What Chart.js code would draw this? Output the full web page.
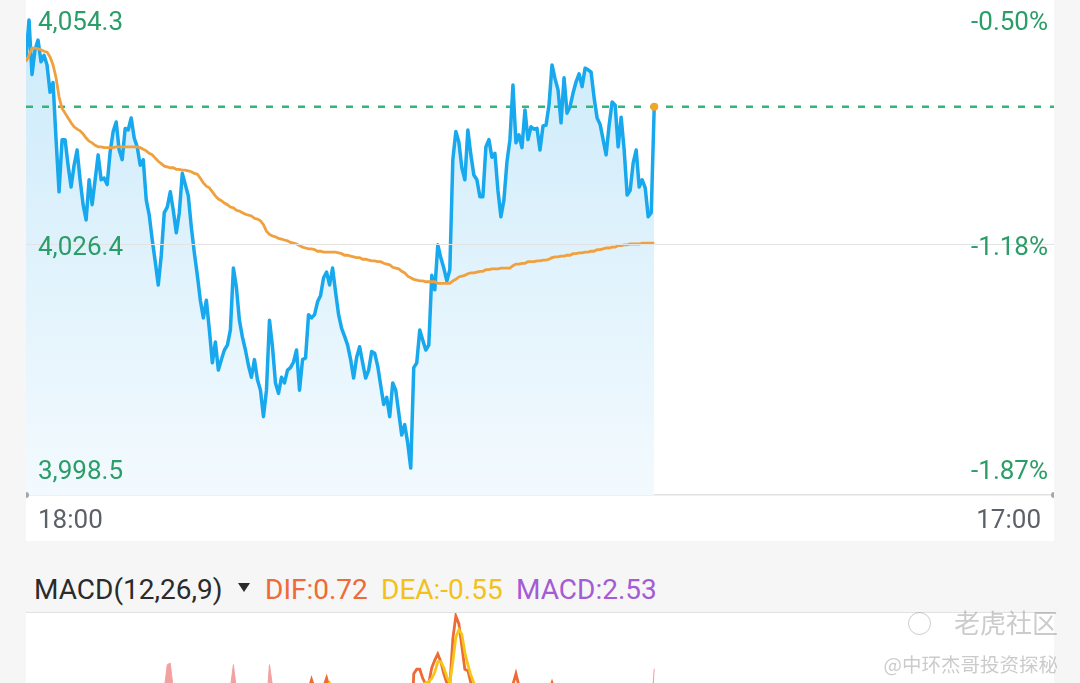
<!DOCTYPE html>
<html lang="zh">
<head>
<meta charset="utf-8">
<title>分时走势</title>
<script src="https://cdn.jsdelivr.net/npm/chart.js@4.4.1/dist/chart.umd.min.js"></script>
<style>
  html, body { margin:0; padding:0; }
  body { width:1080px; height:683px; overflow:hidden; background:#f6f6f6; position:relative; font-family: Roboto, "Noto Sans", Arial, sans-serif; }
  #mainWrap { position:absolute; left:26px; top:0; width:1028px; height:541px; background:#fff; }
  #macdWrap { position:absolute; left:26px; top:613px; width:1028px; height:190px; background:#fff; }
  #sep { position:absolute; left:26px; top:612px; width:1028px; height:1px; background:#e2e2e2; }
  .lg { position:absolute; top:573px; font-size:28px; line-height:33px; white-space:nowrap; font-family: Roboto, sans-serif; }
  #tri { position:absolute; left:238px; top:583px; width:0; height:0; border-left:6px solid transparent; border-right:6px solid transparent; border-top:9px solid #2b2b2b; }
  .wm { position:absolute; right:22px; color: rgba(140,140,140,0.45); font-family:"Noto Sans CJK SC", sans-serif; white-space:nowrap; }
  #wmIcon { position:absolute; left:908px; top:612px; width:21px; height:21px; border:1.5px solid rgba(140,140,140,0.45); border-radius:50%; }
</style>
</head>
<body>
<div id="mainWrap"><canvas id="main"></canvas></div>
<div id="sep"></div>
<div id="macdWrap"><canvas id="macd"></canvas></div>
<div class="lg" id="lgName" style="left:34px;color:#2b2b2b">MACD(12,26,9)</div>
<div id="tri"></div>
<div class="lg" id="lgDif" style="left:265px;color:#ee6b35"></div>
<div class="lg" id="lgDea" style="left:381px;color:#f2c21b"></div>
<div class="lg" id="lgMacd" style="left:516px;color:#a55bd5"></div>
<div id="wmIcon"></div>
<div class="wm" style="top:609px;font-size:26px;line-height:26px;">老虎社区</div>
<div class="wm" style="top:654px;font-size:19.5px;line-height:20px;">@中环杰哥投资探秘</div>
<script>
// ---- data ----
const X_SLOTS = 342;            // session slots (18:00 -> 17:00)
const X_TICK_LABELS = ['18:00', '17:00'];
const Y_TICKS = [3998.5, 4026.4, 4054.3];
const PCT_LABELS = ['-1.87%', '-1.18%', '-0.50%'];

const PRICE = [
  4049.6,4054.3,4047.5,4050.6,4051.8,4049.1,4049.9,4048.7,4045.3,4046.5,
  4039.4,4032.9,4039.4,4039.4,4036.2,4033.5,4036.2,4038.1,4034.4,4031.3,
  4029.4,4034.4,4031.3,4034.4,4037.5,4034.4,4034.6,4033.8,4037.9,4040.4,
  4041.6,4038.1,4036.9,4040.8,4040.6,4042.1,4039.6,4038.5,4036.2,4036.9,
  4031.9,4030.0,4026.9,4024.2,4021.3,4025.0,4030.3,4031.0,4032.9,4030.6,
  4027.8,4030.3,4035.2,4033.8,4032.4,4028.5,4025.3,4022.5,4019.4,4017.2,
  4019.4,4015.7,4011.6,4014.2,4010.7,4012.0,4013.2,4013.8,4015.7,4023.4,
  4021.0,4016.9,4014.8,4013.2,4011.3,4009.8,4012.0,4009.5,4008.2,4004.9,
  4008.2,4016.9,4013.6,4009.1,4007.8,4009.8,4009.1,4010.7,4011.0,4011.7,
  4013.2,4008.2,4012.0,4012.2,4017.6,4017.2,4017.6,4019.2,4020.0,4022.2,
  4022.9,4021.3,4023.4,4020.4,4017.6,4015.9,4014.9,4013.8,4012.0,4009.7,
  4012.3,4013.6,4011.6,4009.7,4010.7,4013.0,4012.8,4011.2,4008.8,4006.4,
  4007.3,4004.9,4009.1,4008.2,4005.4,4002.6,4003.9,4001.6,3998.5,4011.0,
  4011.6,4015.7,4014.4,4013.2,4013.8,4022.5,4020.7,4026.3,4024.7,4023.4,
  4021.8,4023.2,4036.9,4040.4,4039.1,4035.9,4034.4,4040.6,4037.5,4035.0,
  4034.4,4032.3,4032.3,4038.5,4039.4,4037.2,4037.7,4033.1,4029.8,4031.9,
  4036.6,4039.4,4046.2,4039.0,4040.0,4038.4,4043.1,4039.4,4041.0,4040.7,
  4040.8,4038.1,4041.1,4041.2,4043.7,4048.7,4047.0,4045.6,4041.5,4047.1,
  4042.7,4043.5,4045.2,4046.6,4047.6,4046.0,4048.3,4048.1,4047.8,4044.6,
  4042.1,4041.3,4039.4,4037.5,4041.2,4044.1,4043.7,4038.5,4042.2,4038.1,
  4032.5,4033.1,4036.5,4038.1,4033.5,4034.4,4033.4,4029.8,4030.3,4043.5
];

const AVG = [
  4049.1,4049.9,4050.8,4050.8,4050.7,4050.6,4050.4,4050.3,4049.7,4048.7,
  4047.1,4044.7,4043.3,4042.7,4042.1,4041.5,4041.0,4040.7,4040.5,4040.1,
  4039.6,4039.2,4039.0,4038.7,4038.5,4038.5,4038.4,4038.4,4038.4,4038.4,
  4038.5,4038.5,4038.5,4038.5,4038.5,4038.5,4038.5,4038.5,4038.4,4038.2,
  4038.0,4037.7,4037.5,4037.1,4036.7,4036.4,4036.1,4036.0,4035.9,4035.9,
  4035.7,4035.7,4035.6,4035.6,4035.5,4035.4,4035.2,4035.1,4034.6,4034.0,
  4033.6,4033.4,4032.9,4032.4,4032.0,4031.8,4031.5,4031.3,4031.0,4030.9,
  4030.6,4030.5,4030.3,4030.1,4030.0,4029.9,4029.6,4029.5,4029.3,4028.8,
  4028.0,4027.6,4027.4,4027.3,4027.1,4027.0,4026.9,4026.8,4026.6,4026.5,
  4026.4,4026.2,4026.0,4025.9,4025.8,4025.8,4025.7,4025.5,4025.5,4025.4,
  4025.4,4025.4,4025.4,4025.4,4025.3,4025.2,4025.0,4025.0,4024.9,4024.8,
  4024.7,4024.7,4024.5,4024.5,4024.4,4024.3,4024.3,4024.2,4024.2,4024.0,
  4023.9,4023.8,4023.5,4023.4,4023.3,4023.0,4022.8,4022.4,4022.2,4022.0,
  4021.9,4021.8,4021.8,4021.7,4021.7,4021.7,4021.7,4021.5,4021.5,4021.5,
  4021.5,4021.5,4021.8,4022.0,4022.3,4022.4,4022.5,4022.7,4022.8,4022.8,
  4022.9,4023.0,4023.0,4023.2,4023.2,4023.3,4023.3,4023.3,4023.4,4023.4,
  4023.4,4023.4,4023.7,4023.9,4023.9,4024.0,4024.0,4024.2,4024.2,4024.2,
  4024.3,4024.3,4024.4,4024.4,4024.5,4024.7,4024.8,4024.8,4024.9,4024.9,
  4025.0,4025.0,4025.2,4025.2,4025.3,4025.3,4025.4,4025.4,4025.5,4025.5,
  4025.7,4025.7,4025.8,4025.9,4025.9,4026.0,4026.0,4026.2,4026.2,4026.3,
  4026.3,4026.4,4026.4,4026.4,4026.4,4026.5,4026.5,4026.5,4026.5,4026.5
];

const DIF = [
  0.2,0.3,-0.4,-0.2,-0.3,-0.4,-0.5,-0.6,-1.0,-1.1,
  -1.9,-2.8,-1.9,-1.5,-1.7,-2.0,-1.5,-1.1,-1.4,-1.9,
  -2.2,-1.5,-1.6,-1.2,-0.8,-1.0,-0.9,-0.9,-0.4,0.1,
  0.4,0.1,-0.1,0.3,0.4,0.6,0.2,0.0,-0.3,-0.3,
  -0.9,-1.3,-1.8,-2.3,-2.8,-2.2,-1.1,-0.7,-0.3,-0.4,
  -0.8,-0.5,0.2,0.1,-0.1,-0.6,-1.1,-1.6,-2.1,-2.5,
  -2.3,-2.6,-3.1,-2.7,-3.0,-2.7,-2.3,-2.0,-1.5,0.1,
  -0.2,-0.8,-1.2,-1.5,-1.8,-2.0,-1.6,-1.8,-1.9,-2.4,
  -1.8,-0.4,-0.6,-1.2,-1.4,-1.1,-1.1,-0.8,-0.6,-0.4,
  -0.2,-0.9,-0.5,-0.3,1.1,1.8,1.2,1.0,1.1,1.3,
  1.9,1.2,1.4,0.7,0.1,-0.4,-0.8,-1.1,-1.5,-1.9,
  -1.4,-1.0,-1.2,-1.5,-1.3,-0.8,-0.7,-0.9,-1.3,-1.8,
  -1.7,-2.1,-1.2,-1.1,-1.5,-2.0,-1.8,-2.2,-2.8,2.2,
  2.5,2.5,1.9,1.5,1.6,2.6,3.1,3.5,3.0,2.2,
  1.6,1.4,4.5,6.0,5.5,4.0,2.5,2.4,1.6,1.0,
  0.6,0.2,0.1,0.9,1.1,0.8,0.7,-0.1,-0.7,-0.4,
  0.4,0.9,1.5,2.2,1.4,1.0,1.2,0.9,1.0,0.9,
  0.8,0.4,0.7,0.7,1.0,1.6,1.0,0.7,0.0,0.9,
  0.4,0.4,0.6,0.8,0.9,0.6,0.9,0.8,0.7,0.2,
  -0.3,-0.5,-0.8,-1.1,-0.5,0.1,0.0,-0.9,-0.3,-0.9,
  -1.8,-1.7,-1.0,-0.6,-1.3,-1.1,-1.2,-1.8,-1.6,0.72
];

const DEA = [
  0.1,0.1,0.0,0.0,-0.1,-0.1,-0.2,-0.3,-0.4,-0.5,
  -0.8,-1.2,-1.4,-1.5,-1.5,-1.6,-1.6,-1.5,-1.5,-1.6,
  -1.7,-1.7,-1.6,-1.5,-1.3,-1.2,-1.1,-1.0,-0.9,-0.6,
  -0.4,-0.3,-0.2,-0.1,0.0,0.2,0.2,0.1,0.0,-0.1,
  -0.3,-0.6,-0.9,-1.3,-1.7,-1.8,-1.7,-1.4,-1.0,-0.8,
  -0.8,-0.7,-0.5,-0.3,-0.2,-0.3,-0.5,-0.8,-1.1,-1.5,
  -1.7,-1.9,-2.2,-2.4,-2.5,-2.6,-2.5,-2.4,-2.2,-1.6,
  -1.3,-1.2,-1.2,-1.3,-1.4,-1.6,-1.6,-1.7,-1.7,-1.9,
  -1.9,-1.5,-1.3,-1.2,-1.3,-1.2,-1.2,-1.1,-1.0,-0.8,
  -0.6,-0.7,-0.6,-0.5,-0.1,0.4,0.7,0.8,0.9,1.0,
  1.3,1.6,1.3,1.1,0.8,0.4,0.1,-0.2,-0.5,-0.8,
  -1.0,-1.0,-1.1,-1.2,-1.2,-1.1,-1.0,-1.0,-1.1,-1.3,
  -1.4,-1.6,-1.5,-1.4,-1.4,-1.6,-1.7,-1.8,-2.1,-0.6,
  0.6,1.3,1.5,1.6,1.7,1.9,2.3,3.0,3.0,2.6,
  2.0,1.6,3.0,4.6,5.1,4.8,3.6,2.8,2.1,1.6,
  1.2,0.9,0.6,0.7,0.8,0.8,0.7,0.5,0.1,-0.1,
  0.0,0.3,0.7,1.2,1.3,1.2,1.2,1.1,1.0,1.0,
  0.9,0.7,0.7,0.7,0.8,1.0,1.0,0.9,0.6,0.7,
  0.6,0.5,0.5,0.6,0.7,0.7,0.8,0.8,0.7,0.5,
  0.2,-0.1,-0.4,-0.7,-0.6,-0.4,-0.2,-0.5,-0.4,-0.6,
  -1.0,-1.3,-1.2,-1.0,-1.1,-1.1,-1.1,-1.4,-1.5,-0.55
];

const HIST = [
  0.2,0.4,-0.8,-0.4,-0.4,-0.6,-0.6,-0.6,-1.2,-1.2,
  -2.2,-3.2,-1.0,0.0,-0.4,-0.8,0.2,0.8,0.2,-0.6,
  -1.0,0.4,0.0,0.6,1.0,0.4,0.4,0.2,1.0,1.2,
  1.2,0.8,0.2,0.8,0.8,0.8,0.0,-0.2,-0.6,-0.4,
  -1.2,-1.4,-1.8,-2.0,-2.2,-0.8,1.2,2.8,2.9,1.2,
  0.0,0.4,1.2,0.8,0.2,-0.6,-1.2,-1.6,-2.0,-2.0,
  -1.2,-1.4,-1.8,-0.6,-1.0,-0.2,0.4,0.8,1.3,2.8,
  1.2,0.8,0.0,-0.4,-0.8,-0.8,0.0,-0.2,-0.4,-1.0,
  0.2,2.8,1.4,0.0,-0.2,0.2,0.2,0.6,0.8,0.8,
  0.8,-0.4,0.2,0.4,1.2,1.1,1.0,0.4,0.4,0.6,
  1.2,0.0,0.2,-0.8,-1.4,-1.6,-1.8,-1.8,-2.0,-2.2,
  -0.8,0.0,-0.2,-0.6,-0.2,0.6,0.6,0.2,-0.4,-1.0,
  -0.6,-1.0,0.6,0.6,-0.2,-0.8,-0.2,-0.8,-1.4,1.3,
  1.2,1.3,0.8,0.0,0.0,1.2,1.4,1.0,0.0,-0.8,
  -0.8,-0.4,1.3,1.3,0.8,-1.6,-2.2,-0.8,-1.0,-1.2,
  -1.2,-1.4,-1.0,0.4,0.6,0.0,0.0,-1.2,-1.6,-0.6,
  0.8,1.2,1.3,1.3,0.2,-0.4,0.0,-0.4,0.0,-0.2,
  -0.2,-0.6,0.0,0.0,0.4,1.2,0.0,-0.4,-1.2,0.4,
  -0.4,-0.2,0.2,0.4,0.4,-0.2,0.2,0.0,0.0,-0.6,
  -1.0,-0.8,-0.8,-0.8,0.2,1.0,0.4,-0.8,0.2,-0.6,
  -1.6,-0.8,0.4,0.8,-0.4,0.0,-0.2,-0.8,-0.2,2.53
];

// ---- chart setup ----
const Y_MIN = 3995.14, Y_MAX = 4056.79;
const MACD_MIN = -6.3, MACD_MAX = 6.2;
const LAST = PRICE[PRICE.length - 1];
const toXY = arr => arr.map((v, i) => ({ x: i, y: v }));

document.getElementById('lgDif').textContent = 'DIF:' + DIF[DIF.length - 1].toFixed(2);
document.getElementById('lgDea').textContent = 'DEA:' + DEA[DEA.length - 1].toFixed(2);
document.getElementById('lgMacd').textContent = 'MACD:' + HIST[HIST.length - 1].toFixed(2);

const AXIS_FONT = { family: 'Roboto', size: 26 };

const refLinePlugin = {
  id: 'refLine',
  beforeDatasetsDraw(chart) {
    const { ctx, chartArea } = chart;
    const y = chart.scales.y.getPixelForValue(LAST);
    ctx.save();
    ctx.strokeStyle = '#35b57a';
    ctx.lineWidth = 2.5;
    ctx.setLineDash([7, 9]);
    ctx.beginPath();
    ctx.moveTo(chartArea.left, y);
    ctx.lineTo(chartArea.right, y);
    ctx.stroke();
    ctx.restore();
  },
  afterDraw(chart) {
    const { ctx } = chart;
    const xs = chart.scales.x;
    ctx.save();
    ctx.fillStyle = '#a6a6a6';
    xs.ticks.forEach(t => {
      ctx.beginPath();
      ctx.arc(xs.getPixelForValue(t.value), xs.top, 3, 0, Math.PI * 2);
      ctx.fill();
    });
    ctx.fillStyle = '#5c6068';
    ctx.font = '26px Roboto';
    ctx.textBaseline = 'middle';
    xs.ticks.forEach((t, i) => {
      const px = xs.getPixelForValue(t.value);
      if (i === 0) { ctx.textAlign = 'left'; ctx.fillText(X_TICK_LABELS[i], px + 12, xs.top + 26); }
      else { ctx.textAlign = 'right'; ctx.fillText(X_TICK_LABELS[i], px - 13, xs.top + 26); }
    });
    ctx.restore();
  }
};

new Chart(document.getElementById('main'), {
  type: 'line',
  data: {
    datasets: [
      {
        label: '均价', data: toXY(AVG), borderColor: '#f0a03c', borderWidth: 2.8,
        pointRadius: 0, fill: false, tension: 0, order: 1
      },
      {
        label: '价格', data: toXY(PRICE), borderColor: '#17a8ee', borderWidth: 3.5,
        borderJoinStyle: 'round', tension: 0, order: 2,
        pointRadius: c => (c.dataIndex === PRICE.length - 1 ? 4 : 0),
        pointBackgroundColor: '#f3a623', pointBorderWidth: 0,
        fill: 'start',
        backgroundColor: c => {
          const area = c.chart.chartArea;
          if (!area) return 'rgba(200,235,250,0.8)';
          const g = c.chart.ctx.createLinearGradient(0, area.top, 0, area.bottom);
          g.addColorStop(0, '#cbeafa');
          g.addColorStop(1, '#f3fafe');
          return g;
        }
      }
    ]
  },
  options: {
    responsive: true, maintainAspectRatio: false, animation: false, events: [],
    layout: { padding: 0, autoPadding: false },
    plugins: { legend: { display: false }, tooltip: { enabled: false }, filler: { drawTime: 'beforeDatasetsDraw' } },
    scales: {
      x: {
        type: 'linear', min: 0, max: X_SLOTS,
        afterBuildTicks: s => { s.ticks = [{ value: 0 }, { value: X_SLOTS }]; },
        afterFit: s => { s.height = 46; s.paddingLeft = 0; s.paddingRight = 0; },
        ticks: { display: false },
        grid: { display: true, drawOnChartArea: false, drawTicks: false },
        border: { display: true, color: '#e2e2e2', width: 1.5 }
      },
      y: {
        type: 'linear', position: 'left', min: Y_MIN, max: Y_MAX,
        afterBuildTicks: s => { s.ticks = Y_TICKS.map(v => ({ value: v })); },
        afterFit: s => { s.paddingTop = 0; s.paddingBottom = 0; s.width = 0; },
        ticks: {
          z: 2, mirror: true, padding: 12, labelOffset: 4, autoSkip: false,
          color: '#2a9d68', font: AXIS_FONT,
          callback: v => v.toLocaleString('en-US', { minimumFractionDigits: 1, maximumFractionDigits: 1 })
        },
        grid: {
          z: 1, drawTicks: false, lineWidth: 1,
          color: c => (c.tick && c.tick.value === Y_TICKS[1]) ? '#e3e3e3' : 'rgba(0,0,0,0)'
        },
        border: { display: false }
      },
      y2: {
        type: 'linear', position: 'right', min: Y_MIN, max: Y_MAX,
        afterBuildTicks: s => { s.ticks = Y_TICKS.map(v => ({ value: v })); },
        afterFit: s => { s.paddingTop = 0; s.paddingBottom = 0; s.width = 0; },
        ticks: { z: 2, mirror: true, padding: -6, labelOffset: 4, autoSkip: false, color: '#2a9d68', font: AXIS_FONT, callback: (v, i) => PCT_LABELS[i] },
        grid: { display: false, drawTicks: false },
        border: { display: false }
      }
    }
  },
  plugins: [refLinePlugin]
});

new Chart(document.getElementById('macd'), {
  type: 'line',
  data: {
    datasets: [
      { label: 'MACD', data: toXY(HIST), borderColor: '#f2a0a0', backgroundColor: '#f2a0a0', borderWidth: 1, fill: 'origin', pointRadius: 0, tension: 0, order: 3 },
      { label: 'DIF', data: toXY(DIF), borderColor: '#ee6b35', borderWidth: 2.8, pointRadius: 0, fill: false, tension: 0, order: 2 },
      { label: 'DEA', data: toXY(DEA), borderColor: '#f5c518', borderWidth: 2.8, pointRadius: 0, fill: false, tension: 0, order: 1 }
    ]
  },
  options: {
    responsive: true, maintainAspectRatio: false, animation: false, events: [],
    layout: { padding: 0, autoPadding: false },
    plugins: { legend: { display: false }, tooltip: { enabled: false } },
    scales: {
      x: { type: 'linear', display: false, min: 0, max: X_SLOTS },
      y: { type: 'linear', display: false, min: MACD_MIN, max: MACD_MAX }
    }
  }
});
</script>
</body>
</html>
